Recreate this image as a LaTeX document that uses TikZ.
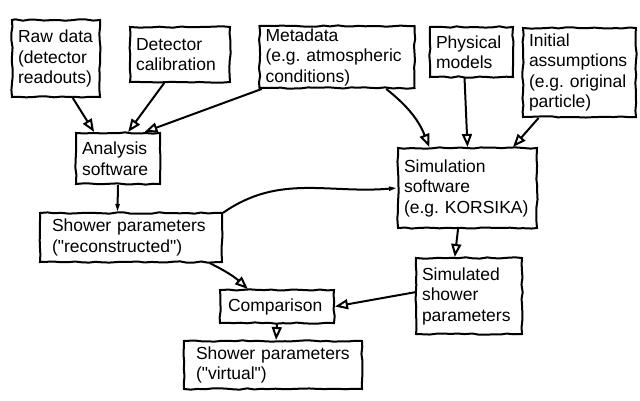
\documentclass[tikz,border=0pt]{standalone}
\usepackage{fontspec}
\setmainfont{Liberation Sans}
\usetikzlibrary{arrows.meta,decorations.pathmorphing}
\frenchspacing
\hyphenpenalty=10000
\tikzstyle{box}=[draw,line width=2pt,decorate,decoration={random steps,segment length=7pt,amplitude=0.7pt},inner xsep=6pt,inner ysep=0pt,align=left,font=\fontsize{17.5}{20.5}\selectfont]
\tikzstyle{flow}=[draw,line width=2pt,-{Triangle[open,length=13pt,width=10pt]}]
\tikzstyle{thinflow}=[draw,line width=2pt,-{Triangle[length=8pt,width=4pt]}]

\begin{document}
\begin{tikzpicture}[x=1pt,y=1pt]
      \pgfmathsetseed{7}
      \useasboundingbox (0,0) rectangle (640,-400);
      % inputs
      \node[box,text width=76pt,minimum height=77pt] (raw) at (56,-58.5) {Raw data\\(detector\\readouts)};
      \node[box,text width=88pt,minimum height=55pt] (cal) at (180,-54.5) {Detector\\calibration};
      \node[box,text width=143pt,minimum height=62pt] (meta) at (337,-57) {Metadata\\(e.g. atmospheric\\conditions)};
      \node[box,text width=71pt,minimum height=50pt] (phys) at (471.5,-52) {Physical\\models};
      \node[box,text width=101pt,minimum height=89pt] (init) at (579.5,-72.5) {Initial\\assumptions\\(e.g. original\\particle)};
      % software
      \node[box,text width=72pt,minimum height=51pt] (ana) at (118,-158.5) {Analysis\\software};
      \node[box,text width=127pt,minimum height=80pt] (sim) at (467.5,-188) {Simulation\\software\\(e.g. KORSIKA)};
      % results
      \node[box,inner xsep=12pt,text width=158pt,minimum height=49pt] (rec) at (131,-237.5) {Shower parameters\\(\textquotedbl reconstructed\textquotedbl)};
      \node[box,text width=94pt,minimum height=76pt] (simd) at (469,-296) {Simulated\\shower\\parameters};
      \node[box,inner xsep=8pt,text width=98pt,minimum height=33pt] (cmp) at (277,-306.5) {Comparison};
      \node[box,inner xsep=12pt,text width=154pt,minimum height=48pt] (virt) at (273,-365) {Shower parameters\\(\textquotedbl virtual\textquotedbl)};

      \foreach \from/\to in {raw.-67/ana.132,cal.-119/ana.69,meta.-157/ana.45,phys.-105/sim.north,init.-132/sim.42,sim.-103/simd.110,simd.176/cmp.east,cmp.south/virt.83}{
        \path[flow] (\from) -- (\to);
      }
      \path[flow] (meta.-33) to[bend left=15] (sim.133);
      \path[flow] (rec.-18) to[bend left=8] (cmp.149);
      \path[thinflow] (ana.south) -- (rec.118);
      \path[thinflow] (rec.15) to[out=35,in=185] (sim.west);

    \end{tikzpicture}
\end{document}
